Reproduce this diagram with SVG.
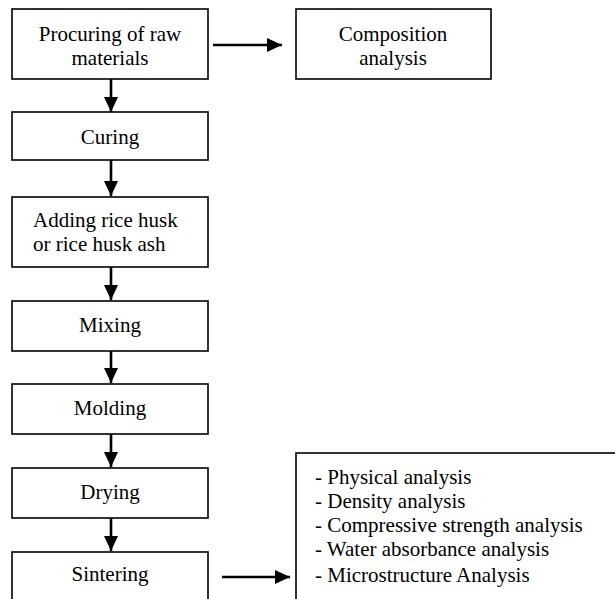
<svg xmlns="http://www.w3.org/2000/svg" width="615" height="599" viewBox="0 0 615 599">
<defs>
<style>
.box{fill:#fff;stroke:#000;stroke-width:1.6}
.t{font-family:"Liberation Serif","Times New Roman",serif;font-size:21px;fill:#000}
.c{text-anchor:middle}
.conn line{stroke:#000;stroke-width:2.6}
</style>
<marker id="ah" markerUnits="userSpaceOnUse" markerWidth="16" markerHeight="14" refX="15" refY="7" orient="auto" viewBox="0 0 16 14">
<path d="M0,0 L15,7 L0,14 Z" fill="#000"/>
</marker>
</defs>
<rect width="615" height="599" fill="#fff"/>
<g id="procuring"><rect class="box" x="12" y="9" width="196" height="70"/>
<text class="t c" x="110" y="41">Procuring of raw</text>
<text class="t c" x="110" y="65">materials</text></g>
<g id="composition"><rect class="box" x="296" y="9" width="195" height="70"/>
<text class="t c" x="393" y="41">Composition</text>
<text class="t c" x="393" y="65">analysis</text></g>
<g id="curing"><rect class="box" x="12" y="112" width="196" height="48"/>
<text class="t c" x="110" y="144">Curing</text></g>
<g id="adding"><rect class="box" x="12" y="197" width="196" height="70"/>
<text class="t" x="33" y="227">Adding rice husk</text>
<text class="t" x="33" y="251">or rice husk ash</text></g>
<g id="mixing"><rect class="box" x="12" y="301" width="196" height="50"/>
<text class="t c" x="110" y="332">Mixing</text></g>
<g id="molding"><rect class="box" x="12" y="384" width="196" height="50"/>
<text class="t c" x="110" y="415">Molding</text></g>
<g id="drying"><rect class="box" x="12" y="468" width="196" height="50"/>
<text class="t c" x="110" y="499">Drying</text></g>
<g id="sintering"><rect class="box" x="12" y="552" width="196" height="70"/>
<text class="t c" x="110" y="581">Sintering</text></g>
<g id="analyses"><rect class="box" x="296" y="453" width="340" height="170"/>
<text class="t" x="315" y="484">- Physical analysis</text>
<text class="t" x="315" y="508">- Density analysis</text>
<text class="t" x="315" y="532">- Compressive strength analysis</text>
<text class="t" x="315" y="556">- Water absorbance analysis</text>
<text class="t" x="315" y="582">- Microstructure Analysis</text></g>
<g id="connectors" class="conn">
<line x1="111" y1="79" x2="111" y2="112" marker-end="url(#ah)"/>
<line x1="111" y1="160" x2="111" y2="196" marker-end="url(#ah)"/>
<line x1="111" y1="267" x2="111" y2="300" marker-end="url(#ah)"/>
<line x1="111" y1="351" x2="111" y2="383" marker-end="url(#ah)"/>
<line x1="111" y1="434" x2="111" y2="467" marker-end="url(#ah)"/>
<line x1="111" y1="518" x2="111" y2="551" marker-end="url(#ah)"/>
<line x1="213" y1="45" x2="282" y2="45" marker-end="url(#ah)"/>
<line x1="222" y1="577" x2="290" y2="577" marker-end="url(#ah)"/>
</g>
</svg>
